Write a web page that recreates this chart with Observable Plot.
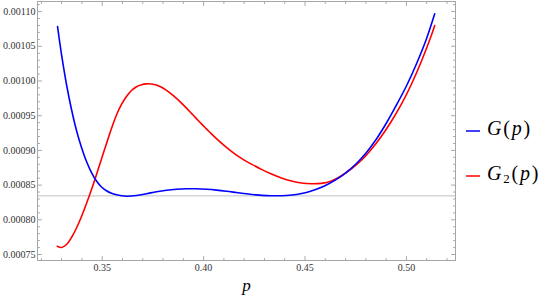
<!DOCTYPE html>
<html>
<head>
<meta charset="utf-8">
<script src="https://cdn.jsdelivr.net/npm/d3@7"></script>
<script src="https://cdn.jsdelivr.net/npm/@observablehq/plot@0.6"></script>
<style>
  html, body { margin: 0; padding: 0; background: #fff; }
  #wrap { position: relative; width: 553px; height: 302px; }
  .leg { position: absolute; font-family: "Liberation Serif", "DejaVu Serif", serif; font-size: 20px; line-height: 1; color: #000; white-space: nowrap; letter-spacing: 1.8px; }
  .leg i { font-style: italic; }
  .sw { position: absolute; width: 14px; height: 1.6px; }
</style>
</head>
<body>
<div id="wrap"></div>
<script>
// ---- data ----
const pBlue = [0.32797,0.32994,0.33240,0.33487,0.33733,0.33980,0.34226,0.34473,0.34719,0.34965,0.35212,0.35458,0.35705,0.35951,0.36198,0.36691,0.37184,0.37677,0.38170,0.38662,0.39155,0.39648,0.40141,0.40634,0.41127,0.41620,0.42113,0.42606,0.43099,0.43592,0.44085,0.44578,0.45071,0.45563,0.46056,0.46549,0.47042,0.47535,0.48028,0.48521,0.49014,0.49507,0.50000,0.50493,0.50986,0.51395];
const gBlue = [0.00107853,0.00103818,0.00099495,0.00095893,0.00092867,0.00090418,0.00088400,0.00086815,0.00085591,0.00084726,0.00084186,0.00083826,0.00083609,0.00083465,0.00083393,0.00083501,0.00083761,0.00084049,0.00084265,0.00084409,0.00084481,0.00084467,0.00084395,0.00084279,0.00084121,0.00083934,0.00083746,0.00083588,0.00083487,0.00083458,0.00083501,0.00083645,0.00083934,0.00084395,0.00085014,0.00085821,0.00086844,0.00088112,0.00089697,0.00091642,0.00093948,0.00096541,0.00099279,0.00102449,0.00106051,0.00109683];
const pRed = [0.32782,0.32994,0.33240,0.33487,0.33733,0.33980,0.34226,0.34473,0.34719,0.34965,0.35212,0.35458,0.35705,0.35951,0.36198,0.36444,0.36691,0.36937,0.37184,0.37430,0.37677,0.37923,0.38170,0.38416,0.38662,0.38909,0.39155,0.39402,0.39648,0.39895,0.40141,0.40388,0.40634,0.40881,0.41127,0.41374,0.41620,0.41867,0.42113,0.42359,0.42852,0.43345,0.43838,0.44331,0.44824,0.45317,0.45810,0.46303,0.46796,0.47289,0.47782,0.48274,0.48767,0.49260,0.49753,0.50246,0.50739,0.51232,0.51395];
const gRed = [0.00076196,0.00076009,0.00076441,0.00077450,0.00078818,0.00080475,0.00082349,0.00084366,0.00086527,0.00088761,0.00090994,0.00093155,0.00095101,0.00096614,0.00097766,0.00098631,0.00099164,0.00099467,0.00099582,0.00099567,0.00099409,0.00099092,0.00098645,0.00098112,0.00097492,0.00096815,0.00096095,0.00095338,0.00094582,0.00093825,0.00093105,0.00092384,0.00091700,0.00091052,0.00090439,0.00089863,0.00089330,0.00088854,0.00088422,0.00088019,0.00087269,0.00086592,0.00086030,0.00085598,0.00085310,0.00085194,0.00085252,0.00085598,0.00086347,0.00087356,0.00088580,0.00090165,0.00092039,0.00094200,0.00096650,0.00099531,0.00102845,0.00106592,0.00107997];
const refLine = 0.0008345;
const xMajor = [0.35, 0.40, 0.45, 0.50];
const xMinor = [0.32,0.33,0.34,0.36,0.37,0.38,0.39,0.41,0.42,0.43,0.44,0.46,0.47,0.48,0.49,0.51,0.52];
const yMajor = [0.00075,0.00080,0.00085,0.00090,0.00095,0.00100,0.00105,0.00110];
const yMinor = [0.00076,0.00077,0.00078,0.00079,0.00081,0.00082,0.00083,0.00084,0.00086,0.00087,0.00088,0.00089,0.00091,0.00092,0.00093,0.00094,0.00096,0.00097,0.00098,0.00099,0.00101,0.00102,0.00103,0.00104,0.00106,0.00107,0.00108,0.00109,0.00111];
const seriesNames = ["G(p)", "G2(p)"];

const blueData = pBlue.map((p, i) => ({p, g: gBlue[i]}));
const redData = pRed.map((p, i) => ({p, g: gRed[i]}));

const serif = "'Liberation Serif', 'DejaVu Serif', serif";
const tickShape = { draw(ctx, l) { ctx.moveTo(0, 0); ctx.lineTo(0, -l); } };
const frameCol = "#a6a6a6";
const tk = (data, ch, anchor, rot, len) => Plot.vector(data, {
  [ch]: d => d, frameAnchor: anchor, rotate: rot, length: len, anchor: "start",
  shape: tickShape, stroke: frameCol, strokeWidth: 1
});

const chart = Plot.plot({
  width: 553, height: 302,
  marginLeft: 37, marginRight: 98, marginTop: 1, marginBottom: 42,
  style: { fontFamily: serif, background: "#fff" },
  x: { domain: [0.3181, 0.5242], axis: null },
  y: { domain: [0.0007414, 0.0011145], axis: null },
  marks: [
    Plot.ruleY([refLine], { stroke: "#c0c0c0", strokeWidth: 1 }),
    Plot.frame({ stroke: frameCol, strokeWidth: 1 }),
    tk(xMajor, "x", "bottom", 0, 4), tk(xMinor, "x", "bottom", 0, 2),
    tk(xMajor, "x", "top", 180, 4), tk(xMinor, "x", "top", 180, 2),
    tk(yMajor, "y", "left", 90, 4), tk(yMinor, "y", "left", 90, 2),
    tk(yMajor, "y", "right", -90, 4), tk(yMinor, "y", "right", -90, 2),
    Plot.axisX({ ticks: xMajor, tickSize: 0, tickPadding: 3, tickFormat: d3.format(".2f"), fontSize: 10, fontFamily: serif, fill: "#333", label: null }),
    Plot.axisY({ ticks: yMajor, tickSize: 0, tickPadding: 2, tickFormat: d3.format(".5f"), fontSize: 10, fontFamily: serif, fill: "#333", label: null }),
    Plot.text(["p"], { frameAnchor: "bottom", dy: 30, fontSize: 17, fontStyle: "italic", fontFamily: serif, fill: "#000" }),
    Plot.line(redData, { x: "p", y: "g", stroke: "#ff0000", strokeWidth: 1.6, curve: "catmull-rom" }),
    Plot.line(blueData, { x: "p", y: "g", stroke: "#0000ff", strokeWidth: 1.6, curve: "catmull-rom" })
  ]
});
const wrap = document.getElementById("wrap");
wrap.appendChild(chart);

// legend
const legend = [
  { name: seriesNames[0], color: "#0000ff", html: "<i>G</i>(<i>p</i>)", lineY: 131, top: 118 },
  { name: seriesNames[1], color: "#ff0000", html: "<i>G</i><sub style='font-size:13px;vertical-align:-3px'>2</sub>(<i>p</i>)", lineY: 176, top: 163 }
];
for (const L of legend) {
  const sw = document.createElement("div");
  sw.className = "sw";
  sw.style.left = "466px"; sw.style.top = (L.lineY - 0.8) + "px";
  sw.style.background = L.color; sw.style.opacity = 0.75;
  wrap.appendChild(sw);
  const t = document.createElement("div");
  t.className = "leg";
  t.style.left = "487px"; t.style.top = L.top + "px";
  t.innerHTML = L.html;
  wrap.appendChild(t);
}
</script>
</body>
</html>
